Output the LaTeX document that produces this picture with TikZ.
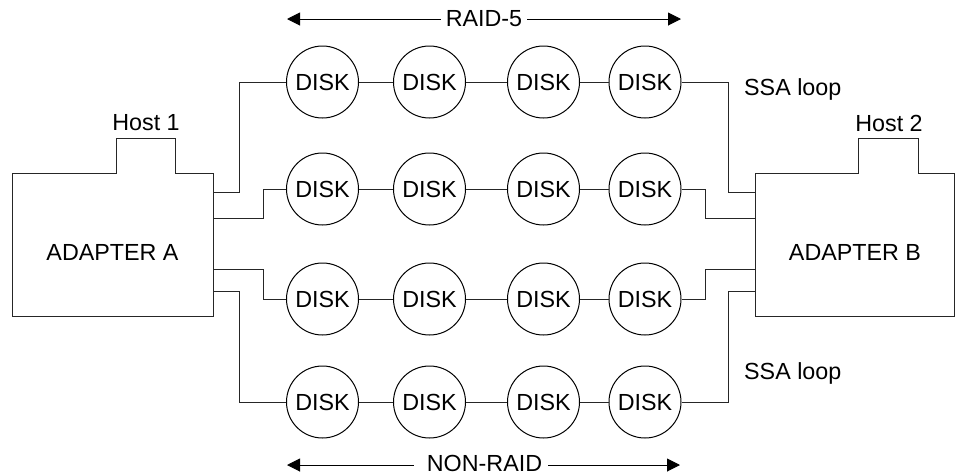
\documentclass[tikz,border=0pt]{standalone}
\usepackage{fontspec}
\setmainfont{Liberation Sans}
\usetikzlibrary{arrows.meta}
\begin{document}
\begin{tikzpicture}[x=1pt,y=-1pt,
  every node/.style={font=\fontsize{23.3}{27}\selectfont, inner sep=0pt},
  disk/.style={draw, circle, minimum size=72pt, line width=1pt},
  wire/.style={line width=1pt, draw=black!85},
  adapter/.style={line width=1pt, draw=black!85},
  tipL/.style={{Triangle[length=13pt,width=13pt]}-},
  tipR/.style={-{Triangle[length=13pt,width=13pt]}},
  spanline/.style={line width=1pt},
  lbl/.style={anchor=center}
]
\useasboundingbox (0,0) rectangle (956,475);

% adapters
\draw[adapter] (12,173) -- (116,173) -- (116,138) -- (175,138) -- (175,173) -- (213,173) -- (213,316) -- (12,316) -- cycle;
\draw[adapter] (755,173) -- (858,173) -- (858,138) -- (918,138) -- (918,173) -- (954,173) -- (954,316) -- (755,316) -- cycle;
\node[lbl] (adA) at (112.5,252) {ADAPTER A};
\node[lbl] (adB) at (855,252) {ADAPTER B};
\node[lbl] (h1) at (146,123) {Host 1};
\node[lbl] (h2) at (889,123) {Host 2};

% ports
\coordinate (A1) at (213,192);
\coordinate (A2) at (213,218);
\coordinate (A3) at (213,269);
\coordinate (A4) at (213,291);
\coordinate (B1) at (755,192);
\coordinate (B2) at (755,218);
\coordinate (B3) at (755,269);
\coordinate (B4) at (755,291);

% disks
\foreach \r/\yy in {1/82,2/189,3/299,4/402}{
  \node[disk] (d\r1) at (322.5,\yy) {DISK};
  \node[disk] (d\r2) at (429.5,\yy) {DISK};
  \node[disk] (d\r3) at (543.5,\yy) {DISK};
  \node[disk] (d\r4) at (645,\yy) {DISK};
  \draw[wire] (d\r1) -- (d\r2);
  \draw[wire] (d\r2) -- (d\r3);
  \draw[wire] (d\r3) -- (d\r4);
}

% loops
\draw[wire] (A1) -- ++(26,0) |- (d11.west);
\draw[wire] (A2) -- ++(50,0) |- (d21.west);
\draw[wire] (A3) -- ++(50,0) |- (d31.west);
\draw[wire] (A4) -- ++(26,0) |- (d41.west);
\draw[wire] (B1) -- ++(-27,0) |- (d14.east);
\draw[wire] (B2) -- ++(-50,0) |- (d24.east);
\draw[wire] (B3) -- ++(-50,0) |- (d34.east);
\draw[wire] (B4) -- ++(-27,0) |- (d44.east);

% labels
\node[anchor=west] (ssa1) at (744,89) {SSA loop};
\node[anchor=west] (ssa2) at (744,373) {SSA loop};

% spans
\node[lbl] (raid) at (484,19) {RAID-5};
\coordinate (r1) at (287,19);
\coordinate (r2) at (681,19);
\coordinate (rl) at ([xshift=-5pt]raid.west);
\coordinate (rr) at ([xshift=5pt]raid.east);
\draw[spanline, tipL] (r1) -- (r1 -| rl);
\draw[spanline, tipR] (r2 -| rr) -- (r2);
\node[lbl] (nonraid) at (484.5,463) {NON-RAID};
\coordinate (n1) at (287,465);
\coordinate (n2) at (680,465);
\coordinate (nl) at ([xshift=-13pt]nonraid.west);
\coordinate (nr) at ([xshift=6pt]nonraid.east);
\draw[spanline, tipL] (n1) -- (n1 -| nl);
\draw[spanline, tipR] (n2 -| nr) -- (n2);
\end{tikzpicture}
\end{document}
